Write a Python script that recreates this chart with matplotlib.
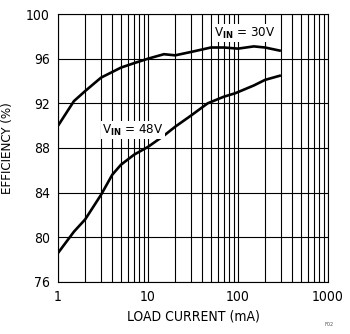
import matplotlib.pyplot as plt
from matplotlib import font_manager
import numpy as np

# load current (mA) and efficiency (%)
i_30v = [1, 1.5, 2, 3, 5, 7, 10, 15, 20, 30, 50, 70, 100, 150, 200, 300]
eff_30v = [90.0, 92.2, 93.1, 94.3, 95.2, 95.6, 96.0, 96.4, 96.3, 96.6, 97.0, 97.0, 96.9, 97.1, 97.0, 96.7]

i_48v = [1, 1.5, 2, 3, 4, 5, 7, 10, 15, 20, 30, 46, 70, 93, 150, 200, 300]
eff_48v = [78.6, 80.5, 81.6, 83.8, 85.6, 86.5, 87.4, 88.1, 89.1, 89.9, 90.9, 92.0, 92.6, 92.9, 93.6, 94.1, 94.5]

yticks = [76, 80, 84, 88, 92, 96, 100]
xticks = [1, 10, 100, 1000]
xticklabels = ['1', '10', '100', '1000']

names = {f.name for f in font_manager.fontManager.ttflist}
fam = 'Liberation Sans Narrow' if 'Liberation Sans Narrow' in names else 'DejaVu Sans'
plt.rcParams['font.family'] = [fam, 'DejaVu Sans']
plt.rcParams['font.stretch'] = 'condensed'
plt.rcParams['mathtext.fontset'] = 'custom'
plt.rcParams['mathtext.rm'] = fam + ':stretch=condensed'
plt.rcParams['mathtext.bf'] = fam + ':bold:stretch=condensed'

fig = plt.figure(figsize=(3.5, 3.34), dpi=100)
ax = fig.add_axes([0.166, 0.156, 0.771, 0.802])

ax.plot(i_30v, eff_30v, color='black', lw=1.9, solid_capstyle='butt')
ax.plot(i_48v, eff_48v, color='black', lw=1.9, solid_capstyle='butt')

ax.set_xscale('log')
ax.set_xlim(1, 1000)
ax.set_ylim(76, 100)
ax.set_yticks(yticks)
ax.set_xticks(xticks)
ax.set_xticklabels(xticklabels)
ax.grid(which='both', axis='x', color='black', lw=0.8)
ax.grid(which='major', axis='y', color='black', lw=0.8)
ax.tick_params(which='both', length=0, labelsize=10, pad=6)
for sp in ax.spines.values():
    sp.set_linewidth(0.8)

ax.set_xlabel('LOAD CURRENT (mA)', fontsize=10)
ax.set_ylabel('EFFICIENCY (%)', fontsize=9.5)
ax.yaxis.set_label_coords(-0.165, 0.5)

box = dict(facecolor='white', edgecolor='none', pad=1)
ax.text(0.69, 0.929, r'V$_{\mathbf{IN}}$ = 30V', transform=ax.transAxes,
        ha='center', va='center', fontsize=9.5, bbox=box)
ax.text(0.278, 0.567, r'V$_{\mathbf{IN}}$ = 48V', transform=ax.transAxes,
        ha='center', va='center', fontsize=9.5, bbox=box)

fig.text(0.94, 0.025, 'F02', fontsize=4, ha='center', color='#555555')

plt.savefig('out.png', dpi=100)
